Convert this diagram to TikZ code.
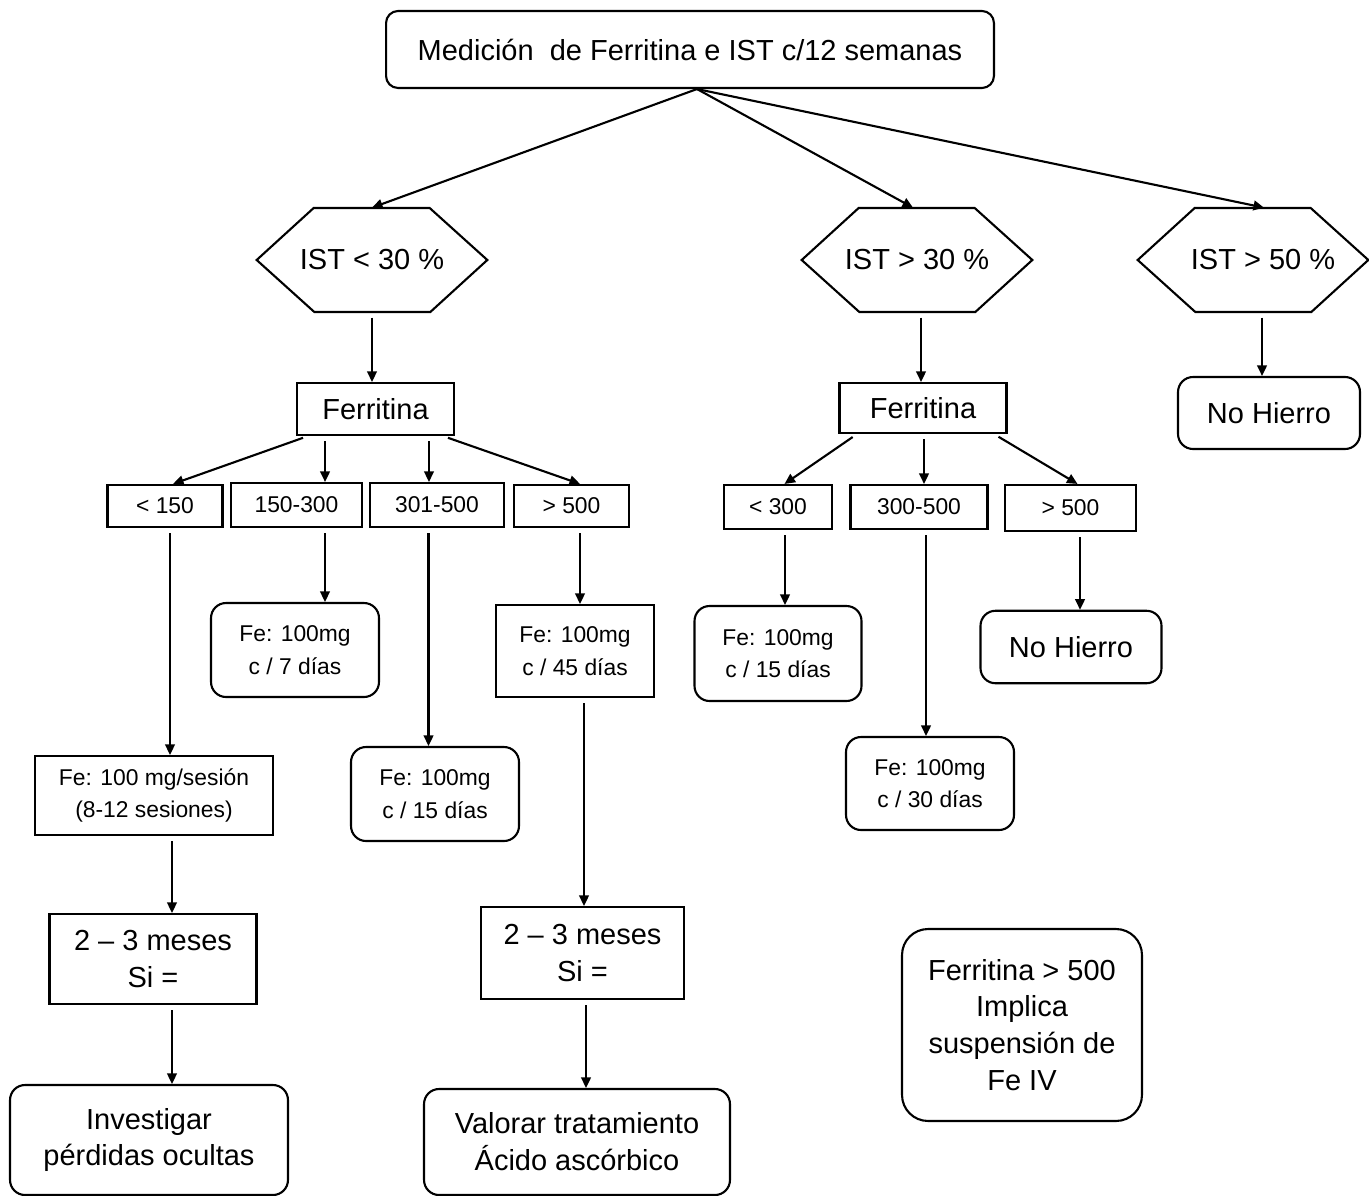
\documentclass[tikz,border=0pt]{standalone}
\usepackage{fontspec}
\setmainfont{Liberation Sans}
\usetikzlibrary{arrows.meta}

\begin{document}
\begin{tikzpicture}[x=0.02cm,y=-0.02cm,
  box node/.style={draw,line width=1.2pt,align=center,inner sep=0pt,font=\fontsize{16.5}{21}\selectfont},
  small node/.style={box node,font=\fontsize{13}{18.5}\selectfont},
  round node/.style={box node,rounded corners=0.3cm},
  small round node/.style={small node,rounded corners=0.3cm},
  hex node/.style={align=center,inner sep=0pt,minimum width=4.6cm,minimum height=2.08cm,font=\fontsize{16.5}{21}\selectfont},
  every edge/.style={draw,line width=1.2pt,-{Triangle[length=6pt,width=5.5pt]}}]
  \useasboundingbox (0,0) rectangle (1369,1196);

  \node[round node,rounded corners=0.24cm,minimum width=12.16cm,minimum height=1.54cm] (top) at (690,49.5) {Medición~ de Ferritina e IST c/12 semanas};

  % hexagonos IST
  \node[hex node] (istA) at (372,260) {IST < 30 \%};
  \node[hex node] (istB) at (917,260) {IST > 30 \%};
  \node[hex node] (istC) at (1253,260) {\hspace{0.4cm}IST > 50 \%};
  \foreach \n in {istA,istB,istC}
    \draw[line width=1.2pt] (\n.west) -- ++(57,-52) -- ++(116,0) -- (\n.east) -- ++(-57,52) -- ++(-116,0) -- cycle;

  \node[box node,minimum width=3.14cm,minimum height=1.04cm] (ferA) at (375.5,409) {Ferritina};
  \node[box node,minimum width=3.34cm,minimum height=1cm] (ferB) at (923,408) {Ferritina};
  \node[round node,minimum width=3.64cm,minimum height=1.44cm] (nhA) at (1269,413) {No Hierro};

  % rangos de ferritina
  \node[small node,minimum width=2.3cm,minimum height=0.84cm] (rA1) at (165,506) {< 150};
  \node[small node,minimum width=2.62cm,minimum height=0.88cm] (rA2) at (296.5,505) {150-300};
  \node[small node,minimum width=2.68cm,minimum height=0.88cm] (rA3) at (437,505) {301-500};
  \node[small node,minimum width=2.3cm,minimum height=0.84cm] (rA4) at (571.5,506) {> 500};
  \node[small node,minimum width=2.16cm,minimum height=0.88cm] (rB1) at (778,507) {< 300};
  \node[small node,minimum width=2.74cm,minimum height=0.88cm] (rB2) at (919,507) {300-500};
  \node[small node,minimum width=2.62cm,minimum height=0.92cm] (rB3) at (1070.5,508) {> 500};

  % dosis
  \node[small node,minimum width=4.76cm,minimum height=1.58cm] (dA1) at (154,795.5) {Fe: 100 mg/sesión\\(8-12 sesiones)};
  \node[small round node,minimum width=3.36cm,minimum height=1.88cm] (dA2) at (295,650) {Fe: 100mg\\c / 7 días};
  \node[small round node,minimum width=3.36cm,minimum height=1.88cm] (dA3) at (435,794) {Fe: 100mg\\c / 15 días};
  \node[small node,minimum width=3.16cm,minimum height=1.84cm] (dA4) at (575,651) {Fe: 100mg\\c / 45 días};
  \node[small round node,minimum width=3.34cm,minimum height=1.9cm] (dB1) at (778,653.5) {Fe: 100mg\\c / 15 días};
  \node[small round node,minimum width=3.36cm,minimum height=1.86cm] (dB2) at (930,783.5) {Fe: 100mg\\c / 30 días};
  \node[round node,minimum width=3.62cm,minimum height=1.45cm] (nhB) at (1071,647) {No Hierro};

  \node[box node,minimum width=4.14cm,minimum height=1.8cm] (mA1) at (153,959) {2 – 3 meses\\Si =};
  \node[box node,minimum width=4.06cm,minimum height=1.84cm] (mA4) at (582.5,953) {2 – 3 meses\\Si =};
  \node[round node,minimum width=5.56cm,minimum height=2.2cm] (fin1) at (149,1140) {Investigar\\pérdidas ocultas};
  \node[round node,minimum width=6.12cm,minimum height=2.12cm] (fin4) at (577,1142) {Valorar tratamiento\\Ácido ascórbico};
  \node[round node,rounded corners=0.52cm,minimum width=4.8cm,minimum height=3.84cm] (nota) at (1022,1025) {Ferritina > 500\\Implica\\suspensión de\\Fe IV};

  \path
    ([xshift=0.14cm]top.south) edge (istA.north)
    ([xshift=0.14cm]top.south) edge ([xshift=-0.08cm]istB.north)
    ([xshift=0.14cm]top.south) edge ([xshift=0.22cm]istC.north);

  \path[shorten <=3pt]
    (istA.south) edge (istA.south |- ferA.north)
    ([xshift=0.08cm]istB.south) edge ([xshift=0.08cm]istB.south |- ferB.north)
    ([xshift=0.18cm]istC.south) edge ([xshift=0.18cm]istC.south |- nhA.north)
    ([xshift=-1.35cm]ferA.south) edge ([xshift=0.16cm]rA1.north)
    ([xshift=-1.01cm]ferA.south) edge ([xshift=-1.01cm]ferA.south |- rA2.north)
    ([xshift=1.07cm]ferA.south) edge ([xshift=1.07cm]ferA.south |- rA3.north)
    ([xshift=1.35cm]ferA.south) edge ([xshift=0.17cm]rA4.north)
    ([xshift=-1.32cm]ferB.south) edge ([xshift=0.13cm]rB1.north)
    ([xshift=0.02cm]ferB.south) edge ([xshift=0.02cm]ferB.south |- rB2.north)
    ([xshift=1.42cm]ferB.south) edge ([xshift=0.14cm]rB3.north);

  \path[shorten <=3pt]
    ([xshift=0.1cm]rA1.south) edge ([xshift=0.1cm]rA1.south |- dA1.north)
    ([xshift=0.57cm]rA2.south) edge ([xshift=0.57cm]rA2.south |- dA2.north)
    ([xshift=-0.17cm]rA3.south) edge ([xshift=-0.17cm]rA3.south |- dA3.north)
    ([xshift=0.17cm]rA4.south) edge ([xshift=0.17cm]rA4.south |- dA4.north)
    ([xshift=0.36cm]dA1.south) edge ([xshift=0.36cm]dA1.south |- mA1.north)
    ([xshift=0.38cm]mA1.south) edge ([xshift=0.38cm]mA1.south |- fin1.north)
    ([xshift=0.18cm]dA4.south) edge ([xshift=0.18cm]dA4.south |- mA4.north)
    ([xshift=0.07cm]mA4.south) edge ([xshift=0.07cm]mA4.south |- fin4.north)
    ([xshift=0.14cm]rB1.south) edge ([xshift=0.14cm]rB1.south |- dB1.north)
    ([xshift=0.14cm]rB2.south) edge ([xshift=0.14cm]rB2.south |- dB2.north)
    ([xshift=0.19cm]rB3.south) edge ([xshift=0.19cm]rB3.south |- nhB.north);
\end{tikzpicture}
\end{document}
